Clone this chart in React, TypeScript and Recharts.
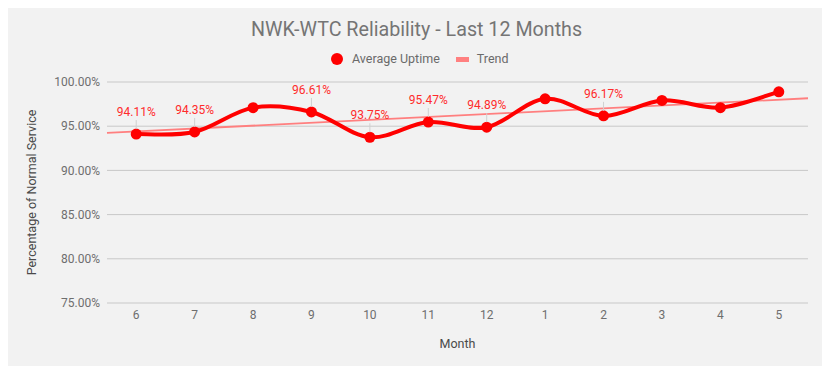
import React from "react";
import { ComposedChart, Line, XAxis, YAxis, CartesianGrid, Label } from "recharts";

const months = ["6", "7", "8", "9", "10", "11", "12", "1", "2", "3", "4", "5"];
const uptime = [94.11, 94.35, 97.1, 96.61, 93.75, 95.47, 94.89, 98.1, 96.17, 97.92, 97.1, 98.89];
const labelShown = [true, true, false, true, true, true, true, false, true, false, false, false];
const trendEnds = [94.25, 98.16];
const yTicks = [75, 80, 85, 90, 95, 100];

const rows = months.map((m, i) => ({ idx: i, month: m, uptime: uptime[i] }));
const trendRows = [
  { idx: -0.5, trend: trendEnds[0] },
  { idx: months.length - 0.5, trend: trendEnds[1] },
];

const RED = "#ff0000";
const FONT = "Roboto, 'Noto Sans', sans-serif";

// catmull-rom style smoothing, close to the sheets "smooth" line
const smoothCurve = (context: any) => {
  let pts: [number, number][] = [];
  return {
    areaStart() {},
    areaEnd() {},
    lineStart() { pts = []; },
    point(x: number, y: number) { pts.push([+x, +y]); },
    lineEnd() {
      if (!pts.length) return;
      context.moveTo(pts[0][0], pts[0][1]);
      for (let i = 0; i < pts.length - 1; i++) {
        const p0 = pts[i - 1] || pts[i];
        const p1 = pts[i];
        const p2 = pts[i + 1];
        const p3 = pts[i + 2] || p2;
        context.bezierCurveTo(
          p1[0] + (p2[0] - p0[0]) / 6, p1[1] + (p2[1] - p0[1]) / 6,
          p2[0] - (p3[0] - p1[0]) / 6, p2[1] - (p3[1] - p1[1]) / 6,
          p2[0], p2[1],
        );
      }
    },
  };
};

const PointLabel = (props: any) => {
  const { x, y, index, value } = props;
  if (!labelShown[index]) return null;
  return (
    <g>
      <line x1={x} x2={x} y1={y - 14} y2={y - 5} stroke="#d0d0d0" strokeWidth={1} />
      <text x={x} y={y - 18} textAnchor="middle" fill="#ff2b2b" fontSize={12} fontFamily={FONT}>
        {Number(value).toFixed(2)}%
      </text>
    </g>
  );
};

export default function App() {
  return (
    <div style={{
      position: "relative", margin: -8, width: 830, height: 374, overflow: "hidden",
      background: "#fff",
      backgroundImage:
        "repeating-linear-gradient(to bottom, transparent 0 15px, #e2e2e2 15px 16px, transparent 16px 21px)," +
        "repeating-linear-gradient(to right, transparent 0 73px, #e2e2e2 73px 74px, transparent 74px 101px)",
      fontFamily: FONT,
    }}>
      <div style={{ position: "absolute", left: 2, top: 0, width: 1, height: 374, background: "#e2e2e2" }} />
      <div style={{
        position: "absolute", left: 5, top: 0, width: 821, height: 370,
        background: "#f2f2f2", border: "2px solid #9a9a9a", borderTopWidth: 1, borderLeftWidth: 2,
      }} />
      <div style={{
        position: "absolute", left: 0, top: 17, width: 833, textAlign: "center",
        fontSize: 19.7, color: "#757575", lineHeight: "26px",
      }}>
        NWK-WTC Reliability - Last 12 Months
      </div>
      <div style={{ position: "absolute", left: 331, top: 51, display: "flex", alignItems: "center", fontSize: 12.5, color: "#6a6a6a", lineHeight: "16px" }}>
        <span style={{ width: 12, height: 12, borderRadius: 6, background: RED, display: "inline-block", marginRight: 9 }} />
        <span>Average Uptime</span>
        <span style={{ width: 13, height: 5, background: "#ff8080", display: "inline-block", marginLeft: 16, marginRight: 8 }} />
        <span>Trend</span>
      </div>
      <div style={{ position: "absolute", left: 0, top: 0 }}>
        <ComposedChart width={830} height={374} data={rows} margin={{ top: 82, right: 22, bottom: 21, left: 27 }}>
          <CartesianGrid vertical={false} stroke="#c8c8c8" strokeWidth={1} />
          <XAxis
            type="number"
            dataKey="idx"
            domain={[-0.5, months.length - 0.5]}
            ticks={rows.map(r => r.idx)}
            tickFormatter={(i: number) => months[i]}
            interval={0}
            height={50}
            axisLine={false}
            tickLine={false}
            tickSize={0}
            tickMargin={7}
            tick={{ fill: "#6e6e6e", fontSize: 12, fontFamily: FONT }}
          >
            <Label value="Month" position="insideTop" offset={36} fill="#4a4a4a" fontSize={12.5} fontFamily={FONT} />
          </XAxis>
          <YAxis
            domain={[75, 100]}
            ticks={yTicks}
            width={80}
            axisLine={false}
            tickLine={false}
            tickSize={0}
            tickMargin={7}
            tickFormatter={(v: number) => `${v.toFixed(2)}%`}
            tick={{ fill: "#6e6e6e", fontSize: 12, fontFamily: FONT }}
          >
            <Label
              value="Percentage of Normal Service"
              angle={-90}
              position="insideLeft"
              offset={5}
              fill="#4a4a4a"
              fontSize={12.5}
              fontFamily={FONT}
              style={{ textAnchor: "middle" }}
            />
          </YAxis>
          <Line
            data={trendRows}
            dataKey="trend"
            type="linear"
            stroke="#ff7f7f"
            strokeWidth={1.8}
            dot={false}
            activeDot={false}
            isAnimationActive={false}
          />
          <Line
            dataKey="uptime"
            type={smoothCurve as any}
            stroke={RED}
            strokeWidth={4}
            dot={{ r: 5.5, fill: RED, stroke: RED, strokeWidth: 0 }}
            activeDot={false}
            label={PointLabel}
            isAnimationActive={false}
          />
        </ComposedChart>
      </div>
    </div>
  );
}
